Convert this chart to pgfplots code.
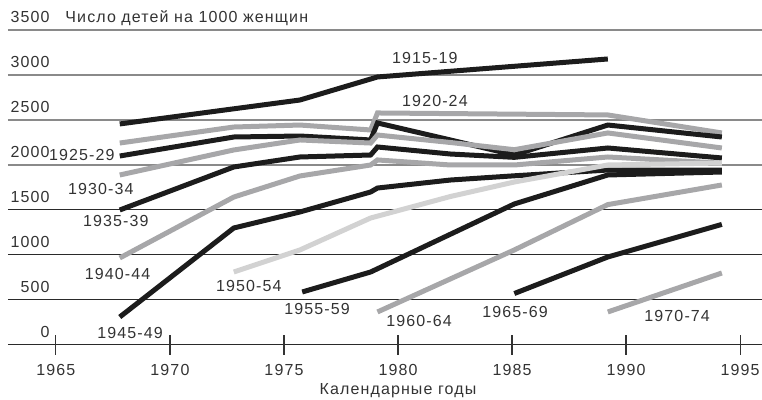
\documentclass[border=0pt]{standalone}
\usepackage{fontspec}
\setmainfont[LetterSpace=7]{Liberation Sans}
\usepackage{pgfplots}
\pgfplotsset{compat=1.18}

\definecolor{blk}{HTML}{1C1C1C}
\definecolor{gry}{HTML}{A7A7A9}
\definecolor{lgr}{HTML}{D2D2D2}
\definecolor{txt}{HTML}{333333}
\definecolor{gridup}{HTML}{8A8A8A}
\definecolor{griddn}{HTML}{2A2A2A}

\begin{document}
\begin{tikzpicture}[font=\fontsize{8}{9.6}\selectfont]
\begin{axis}[
  scale only axis, width=377pt, height=157.5pt,
  xmin=1962.9, xmax=1995.96, ymin=0, ymax=3500,
  axis line style={draw=none},
  xtick={1965,1970,...,1995}, xtick pos=bottom,
  tick align=center, major tick length=10pt,
  xtick style={draw=txt, line width=0.6pt},
  ytick={0,500,...,1500}, ytick style={draw=none},
  extra y ticks={2000,2500,3000,3500},
  extra y tick style={grid style={draw=gridup, line width=0.6pt}},
  ymajorgrids, grid style={draw=griddn, line width=0.5pt},
  /pgf/number format/1000 sep={},
  /pgf/number format/assume math mode=true,
  ticklabel style={font=\fontsize{8}{9.6}\selectfont, text=txt},
  yticklabel style={anchor=base east, inner sep=0pt, xshift=26pt, yshift=3.5pt},
  xticklabel style={anchor=base, inner sep=0pt, yshift=-10.5pt},
  every axis plot/.append style={line width=2.5pt},
  clip=false,
]
% 1915-19
\addplot[blk] coordinates {(1967.8,2456) (1975.7,2722) (1979.1,2978) (1989.2,3178)};
% 1920-24
\addplot[gry] coordinates {(1967.8,2244) (1972.8,2422) (1975.7,2444) (1978.8,2389) (1979.1,2578) (1989.2,2556) (1994.2,2356)};
% 1925-29
\addplot[blk] coordinates {(1967.8,2100) (1972.8,2311) (1975.7,2322) (1978.8,2278) (1979.1,2467) (1982.3,2278) (1985.1,2111) (1989.2,2444) (1994.2,2311)};
% 1930-34
\addplot[gry] coordinates {(1967.8,1889) (1972.8,2167) (1975.7,2278) (1978.8,2244) (1979.1,2333) (1982.3,2250) (1985.1,2170) (1989.2,2356) (1994.2,2189)};
% 1935-39
\addplot[blk] coordinates {(1967.8,1500) (1972.8,1978) (1975.7,2089) (1978.8,2111) (1979.1,2200) (1982.3,2122) (1985.1,2085) (1989.2,2189) (1994.2,2078)};
% 1940-44
\addplot[gry] coordinates {(1967.8,967) (1972.8,1644) (1975.7,1878) (1978.8,2000) (1979.1,2056) (1982.3,2000) (1985.1,2000) (1989.2,2089) (1994.2,2020)};
% 1945-49
\addplot[blk] coordinates {(1967.8,311) (1972.8,1300) (1975.7,1478) (1978.8,1700) (1979.1,1744) (1982.3,1833) (1985.1,1880) (1989.2,1944) (1994.2,1944)};
% 1950-54
\addplot[lgr] coordinates {(1972.8,811) (1975.7,1056) (1978.8,1411) (1982.3,1650) (1985.1,1811) (1989.2,2000) (1994.2,2022)};
% 1955-59
\addplot[blk] coordinates {(1975.8,589) (1978.8,811) (1985.1,1567) (1989.2,1889) (1994.2,1922)};
% 1960-64
\addplot[gry] coordinates {(1979.1,367) (1985.1,1056) (1989.2,1560) (1994.2,1778)};
% 1965-69
\addplot[blk] coordinates {(1985.1,572) (1989.2,978) (1994.2,1340)};
% 1970-74
\addplot[gry] coordinates {(1989.2,367) (1994.2,800)};

\begin{scope}[every node/.style={text=txt, inner sep=0pt}]
\node at (axis cs:1981.18,3189) {1915-19};
\node at (axis cs:1981.62,2711) {1920-24};
\node at (axis cs:1966.14,2111) {1925-29};
\node at (axis cs:1966.97,1733) {1930-34};
\node at (axis cs:1967.63,1378) {1935-39};
\node at (axis cs:1967.70,789) {1940-44};
\node at (axis cs:1968.25,133) {1945-49};
\node at (axis cs:1973.46,656) {1950-54};
\node at (axis cs:1976.45,400) {1955-59};
\node at (axis cs:1980.92,267) {1960-64};
\node at (axis cs:1985.13,367) {1965-69};
\node at (axis cs:1992.24,322) {1970-74};
\node[anchor=base west, yshift=3.5pt] at (axis cs:1965.4,3500) {Число детей на 1000 женщин};
\node[anchor=base, yshift=-25pt] at (axis cs:1980,0) {Календарные годы};
\end{scope}
\end{axis}
\pgfresetboundingbox
\path[use as bounding box] ([xshift=-4pt,yshift=-27.5pt]current axis.south west) rectangle ([yshift=15pt]current axis.north east);
\end{tikzpicture}
\end{document}
